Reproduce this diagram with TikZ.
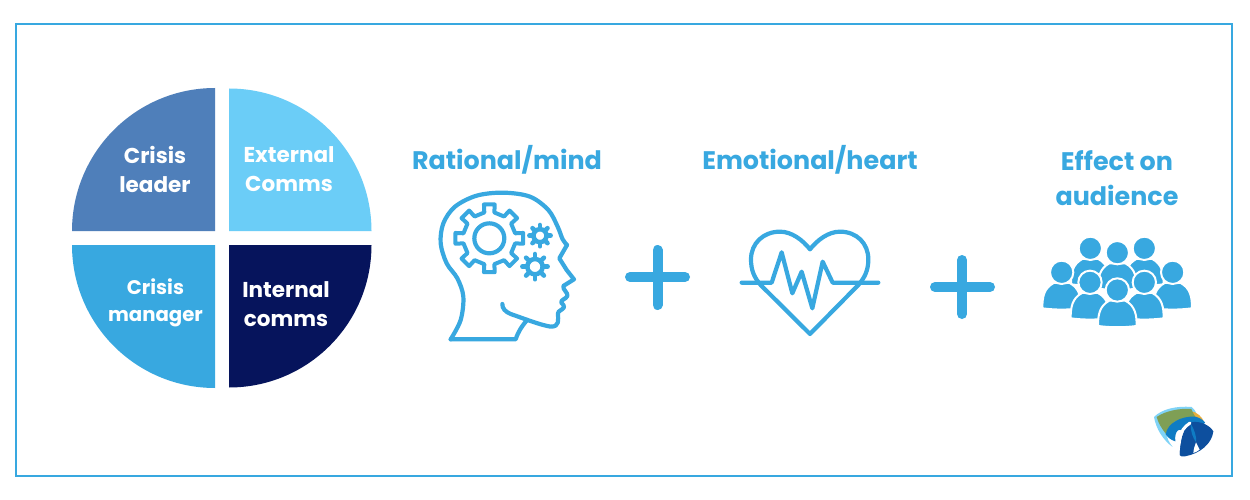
\documentclass[tikz,border=0pt]{standalone}
\usepackage{fontspec}
\setmainfont{Poppins}
\definecolor{brand}{HTML}{38A8E0}
\definecolor{qtl}{HTML}{4F7FBA}
\definecolor{qtr}{HTML}{6BCDF7}
\definecolor{qbr}{HTML}{06145C}
\definecolor{logolight}{HTML}{7FD3F7}
\definecolor{logoolive}{HTML}{7F9F55}
\definecolor{logoyellow}{HTML}{E8AE3C}
\definecolor{logoblue}{HTML}{0F7CC4}
\definecolor{logodark}{HTML}{0D4F9E}
\tikzset{
  quadlabel/.style={text=white,font=\fontsize{21.5}{29}\selectfont\bfseries,align=center,inner sep=0pt},
  title/.style={text=brand,font=\fontsize{25.4}{35}\selectfont\bfseries,align=center,inner sep=0pt},
  iconline/.style={draw=brand,line width=4.2pt,line join=round,line cap=round},
  plussign/.style={draw=brand,line width=10pt,line cap=round},
  persona/.style={fill=brand,draw=white,line width=2pt,line join=round}
}
\newcommand{\gearpath}[5]{% cx cy outer root teeth
  \draw[iconline,line width=4pt]
    ({#1+#4*cos(-11)},{#2+#4*sin(-11)})
    \foreach \gi in {1,...,#5}{
      -- ({#1+#3*cos((\gi-1)*360/#5-9)},{#2+#3*sin((\gi-1)*360/#5-9)})
      -- ({#1+#3*cos((\gi-1)*360/#5+9)},{#2+#3*sin((\gi-1)*360/#5+9)})
      -- ({#1+#4*cos((\gi-1)*360/#5+11)},{#2+#4*sin((\gi-1)*360/#5+11)})
      -- ({#1+#4*cos(\gi*360/#5-11)},{#2+#4*sin(\gi*360/#5-11)})
    } -- cycle;
}
\newcommand{\minigear}[4]{% cx cy ring outer
  \draw[iconline,line width=4.5pt] (#1,#2) circle (#3);
  \foreach \ga in {0,45,...,315}{
    \draw[iconline,line width=4.5pt] ({#1+#3*cos(\ga)},{#2+#3*sin(\ga)}) -- ({#1+#4*cos(\ga)},{#2+#4*sin(\ga)});
  }
}
\newcommand{\personicon}[2]{% cx, head cy
  \filldraw[persona] (#1-58,#2+108) .. controls (#1-58,#2+75) and (#1-54,#2+48) .. (#1-24,#2+32)
     -- (#1+24,#2+32)
     .. controls (#1+54,#2+48) and (#1+58,#2+75) .. (#1+58,#2+108)
     .. controls (#1+20,#2+113) and (#1-20,#2+113) .. cycle;
  \filldraw[persona] (#1,#2) circle (35);
}
\begin{document}
\begin{tikzpicture}[x=1pt,y=-1pt]
\useasboundingbox (0,0) rectangle (1250,500);
\fill[white] (0,0) rectangle (1250,500);
\draw[brand,line width=1.6pt] (16,24) rectangle (1232,476);
% quadrants
\fill[qtl] (215,231) -- (72,231) arc[start angle=180,delta angle=90,radius=143] -- cycle;
\fill[qtr] (229,231) -- (229,88.5) arc[start angle=270,delta angle=90,radius=142.5] -- cycle;
\fill[brand] (215,245) -- (215,388) arc[start angle=90,delta angle=90,radius=143] -- cycle;
\fill[qbr] (229,245) -- (371.5,245) arc[start angle=0,delta angle=90,radius=142.5] -- cycle;
\node[quadlabel] (leader) at (155,169) {Crisis\\leader};
\node[quadlabel] (external) at (289,169) {External\\Comms};
\node[quadlabel,font=\fontsize{19.7}{27}\selectfont\bfseries] (manager) at (155.5,302.5) {Crisis\\manager};
\node[quadlabel] (internal) at (286,304) {Internal\\comms};
% titles
\node[title] (rational) at (507,160) {Rational/mind};
\node[title] (emotional) at (810,160) {Emotional/heart};
\node[title] (effect) at (1117,178) {Effect on\\audience};
% plus signs
\draw[plussign] (630,277) -- (685,277) (657.5,250) -- (657.5,305);
\draw[plussign] (935,287) -- (990,287) (962,260) -- (962,314);
% head icon
\begin{scope}[shift={(420,180)},x=0.3333pt,y=-0.3333pt]
  \draw[iconline] plot[smooth,tension=0.55] coordinates {(92,478) (122,420) (130,350) (112,295) (80,250) (62,190) (70,130) (105,80) (170,47) (250,38) (330,50) (385,90) (413,140) (428,178) (441,195)};
  \draw[iconline] (441,195) -- (418,235) -- (440,270) -- (462,298) -- (430,318) .. controls (428,330) and (445,338) .. (442,348) .. controls (438,358) and (422,358) .. (424,368) .. controls (426,375) and (436,375) .. (432,382) .. controls (428,390) and (414,392) .. (414,400) .. controls (414,420) and (420,440) .. (392,440) .. controls (360,435) and (310,415) .. (272,402) .. controls (255,395) and (247,385) .. (247,372);
  \draw[iconline] (92,478) -- (287,478) .. controls (295,455) and (305,438) .. (322,420);
  \gearpath{208}{175}{103}{79}{8}
  \draw[iconline] (208,175) circle (45);
  \minigear{360}{167}{19.5}{32}
  \minigear{345}{260}{23}{38}
\end{scope}
% heart icon
\begin{scope}[shift={(730,220)},x=0.3333pt,y=-0.3333pt]
  \draw[iconline] (92,195) -- (240,342) -- (385,195)
     .. controls (405,172) and (415,150) .. (415,118)
     .. controls (415,70) and (380,35) .. (330,35)
     .. controls (295,35) and (262,60) .. (240,88)
     .. controls (218,60) and (185,35) .. (150,35)
     .. controls (100,35) and (63,70) .. (63,118)
     .. controls (63,150) and (72,172) .. (92,195);
  \draw[iconline] (35,188) -- (125,188) -- (155,97) -- (187,220) -- (215,155) -- (247,265) -- (278,125) -- (308,188) -- (445,188);
\end{scope}
% people icon
\begin{scope}[shift={(1035,230)},x=0.3333pt,y=-0.3333pt]
  \personicon{166}{55}
  \personicon{328}{55}
  \personicon{247}{68}
  \personicon{80}{127}
  \personicon{413}{127}
  \personicon{165}{157}
  \personicon{328}{157}
  \personicon{247}{180}
\end{scope}
% logo
\begin{scope}[shift={(1150,403)},x=0.3333pt,y=-0.3333pt]
  \fill[logolight] (12,42) .. controls (35,18) and (80,8) .. (125,12) .. controls (135,20) and (140,30) .. (140,40) -- (60,70) -- (48,88) .. controls (50,105) and (58,120) .. (68,132) .. controls (40,112) and (18,78) .. (12,42) -- cycle;
  \fill[logoyellow] (122,24) .. controls (142,28) and (155,40) .. (163,58) -- (128,46) -- cycle;
  \fill[logoolive] (20,42) .. controls (45,24) and (90,15) .. (124,18) .. controls (128,28) and (132,35) .. (136,42) -- (75,55) -- (47,92) .. controls (34,75) and (24,58) .. (20,42) -- cycle;
  \fill[logoblue] (47,94) .. controls (52,60) and (95,38) .. (136,41) .. controls (148,44) and (158,50) .. (165,58) -- (130,120) -- (110,100) .. controls (90,62) and (72,85) .. (76,115) .. controls (66,112) and (55,106) .. (47,94) -- cycle;
  \fill[logodark] (122,58) .. controls (152,52) and (180,68) .. (190,85) .. controls (186,122) and (150,152) .. (105,160) .. controls (97,161) and (91,160) .. (88,156) .. controls (88,120) and (98,78) .. (122,58) -- cycle;
  \fill[logoblue] (122,62) .. controls (134,82) and (140,100) .. (138,118) .. controls (128,102) and (122,88) .. (122,62) -- cycle;
  \fill[white] (130,150) .. controls (131,138) and (134,128) .. (138,118) .. controls (142,126) and (146,134) .. (149,140) .. controls (143,145) and (136,148) .. (130,150) -- cycle;
  \draw[white,line width=3pt,line cap=round] (120,60) .. controls (102,72) and (93,85) .. (90,105) .. controls (87,125) and (84,135) .. (84,158);
\end{scope}
\end{tikzpicture}
\end{document}
